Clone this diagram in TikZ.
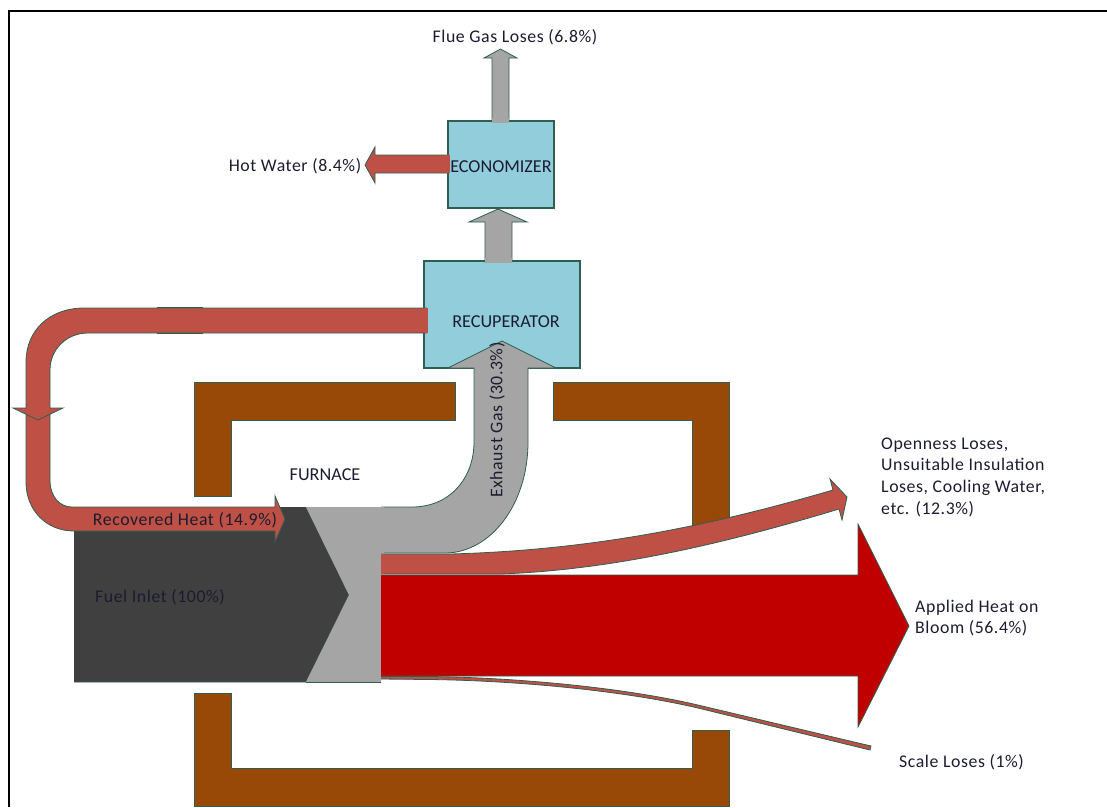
\documentclass[tikz,border=0pt]{standalone}
\usepackage{fontspec}
\setmainfont{Carlito}
\newfontfamily\spacedfont[LetterSpace=3.2]{Carlito}
\definecolor{edge}{HTML}{2F5F50}
\definecolor{furn}{HTML}{984807}
\definecolor{heat}{HTML}{BE5046}
\definecolor{gasg}{HTML}{A5A5A5}
\definecolor{fuel}{HTML}{404040}
\definecolor{deepred}{HTML}{C00000}
\definecolor{unit}{HTML}{92CDDC}
\definecolor{inktxt}{HTML}{1C1C30}
\tikzset{
  wall/.style={fill=furn,draw=edge,line width=0.7pt},
  hotflow/.style={fill=heat,draw=edge,line width=0.8pt},
  gasflow/.style={fill=gasg,draw=edge,line width=0.8pt},
  unitbox/.style={fill=unit,draw=edge,line width=1.5pt},
  lbl/.style={text=inktxt,inner sep=0pt,font=\spacedfont\fontsize{17.8}{21.7}\selectfont},
  capslbl/.style={text=inktxt,inner sep=0pt,font=\fontsize{18.2}{21.7}\selectfont},
  lblleft/.style={lbl,anchor=west,align=left}
}
\begin{document}
\begin{tikzpicture}[x=1pt,y=-1pt]
\useasboundingbox (0,0) rectangle (1107,807);
% frame
\draw[line width=2pt,black] (9,807) -- (9,11) -- (1107,11);
% furnace walls
\draw[wall] (194,382) -- (455,382) -- (455,420) -- (231,420) -- (231,496) -- (194,496) -- cycle;
\draw[wall] (553,382) -- (729,382) -- (729,530) -- (692,530) -- (692,420) -- (553,420) -- cycle;
\draw[wall] (194,693) -- (231,693) -- (231,768) -- (692,768) -- (692,730) -- (729,730) -- (729,806) -- (194,806) -- cycle;
% fuel inlet
\fill[fuel] (74,507) -- (306,507) -- (349,595) -- (306,682) -- (74,682) -- cycle;
\draw[edge,line width=0.8pt] (74,682) -- (306,682) -- (349,595) -- (306,507);
% grey block
\fill[gasg] (306,507) -- (381,507) -- (381,682) -- (306,682) -- (349,595) -- cycle;
\draw[edge,line width=0.8pt] (306,682) -- (381,682);
% units
\node[unitbox,minimum width=156pt,minimum height=107pt,inner sep=0pt,anchor=north west] (recup) at (423,260) {};
\node[unitbox,minimum width=106pt,minimum height=87pt,inner sep=0pt,anchor=north west] (econ) at (447,120) {};
% exhaust gas
\draw[gasflow] (381,507) -- (412,507) .. controls (450,507) and (474,478) .. (474,442) -- (474,368) -- (448,368) -- (502,341) -- (556,368) -- (528,368) -- (528,442) .. controls (528,505) and (490,553) .. (445,553) -- (381,553);
\fill[gasg] (378,507.4) rectangle (384,552.6);
% gas up
\draw[gasflow] (485,262) -- (485,222) -- (469,222) -- (498,209) -- (527,222) -- (512,222) -- (512,262);
\fill[gasg] (485.4,258) rectangle (511.6,263);
\draw[gasflow] (492,122) -- (492,58) -- (484,58) -- (500.5,49) -- (517,58) -- (509,58) -- (509,122);
\fill[gasg] (492.4,118) rectangle (508.6,123);
% hot water
\draw[hotflow] (449,155) -- (375,155) -- (375,147) -- (365,165) -- (375,183) -- (375,173) -- (449,173);
\fill[heat] (445,155.4) rectangle (450,172.6);
% recovered heat loop: lower part, then upper part with its head
\draw[hotflow] (26,412) -- (26,482) .. controls (26,510) and (46,531) .. (74,531) -- (275,531) -- (275,542) -- (285,519) -- (275,496) -- (275,507) -- (72,507) .. controls (60,507) and (50,497) .. (50,480) -- (50,412);
\draw[hotflow] (427,308) -- (84,308) .. controls (50,308) and (26,330) .. (26,362) -- (26,408) -- (13,408) -- (38,420) -- (63,408) -- (50,408) -- (50,370) .. controls (50,350) and (66,333) .. (88,333) -- (427,333);
\fill[heat] (424,308.4) rectangle (428,332.6);
\draw[edge,line width=1pt] (157,307.6) -- (203,307.6) (157,333.2) -- (203,333.2);
% loss stream
\draw[hotflow] (381,554) -- (450,554) .. controls (600,550) and (720,523) .. (833,490) -- (830,479) -- (847,497) -- (842,520) -- (839,509) .. controls (720,545) and (610,570) .. (500,574) -- (381,574);
\fill[heat] (381,554.4) rectangle (384,573.6);
% applied heat
\fill[deepred] (381,575) -- (858,575) -- (858,524) -- (909,626) -- (858,727) -- (858,676) -- (381,676) -- cycle;
\draw[edge,line width=0.8pt] (381,575) -- (858,575) -- (858,524) -- (909,626) -- (858,727) -- (858,676) -- (381,676);
% scale losses
\draw[hotflow] (381,676.5) -- (430,676.5) .. controls (510,677.5) and (620,686.5) .. (700,705.5) -- (871,746) -- (870,750) -- (700,708.5) .. controls (620,689.5) and (510,680.5) .. (430,679.5) -- (381,679);
% labels
\node[lbl] (tflue) at (515,37) {Flue Gas Loses (6.8\%)};
\node[lbl] (thot) at (295,166) {Hot Water (8.4\%)};
\node[capslbl] (tecon) at (501,167) {ECONOMIZER};
\node[capslbl] (trec) at (506,322) {RECUPERATOR};
\node[capslbl] (tfurn) at (325,475) {FURNACE};
\node[lbl,rotate=90] (texh) at (497,420) {Exhaust Gas (30.3\%)};
\node[lbl] (trh) at (185,520) {Recovered Heat (14.9\%)};
\node[lbl] (tfuel) at (160,597) {Fuel Inlet (100\%)};
\node[lblleft] (topen) at (881,477) {Openness Loses,\\Unsuitable Insulation\\Loses, Cooling Water,\\etc. (12.3\%)};
\node[lblleft] (tapp) at (915,618) {Applied Heat on\\Bloom (56.4\%)};
\node[lblleft] (tscale) at (899,762) {Scale Loses (1\%)};
\end{tikzpicture}
\end{document}
